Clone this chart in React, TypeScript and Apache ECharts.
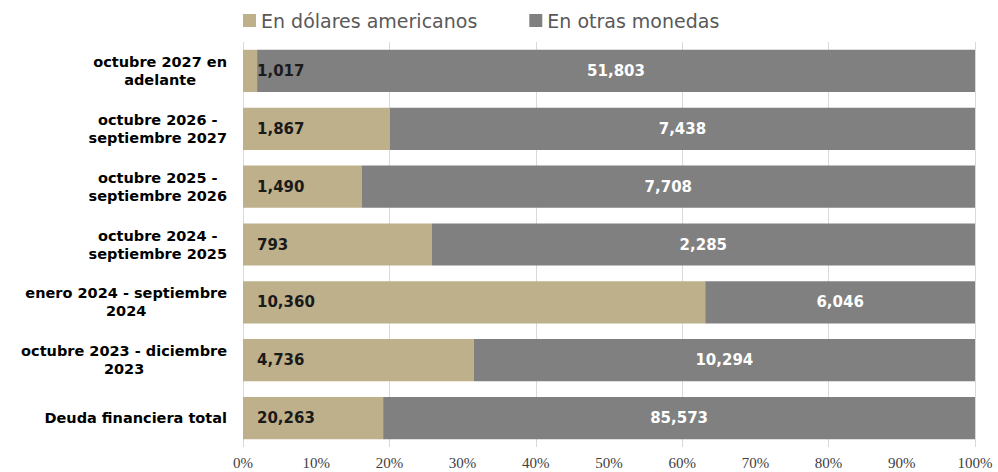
import React, { useEffect, useRef } from "react";
import * as echarts from "echarts";

const categories = [
  "octubre 2027 en\nadelante",
  "octubre 2026 -\nseptiembre 2027",
  "octubre 2025 -\nseptiembre 2026",
  "octubre 2024 -\nseptiembre 2025",
  "enero 2024 - septiembre\n2024",
  "octubre 2023 - diciembre\n2023",
  "Deuda financiera total",
];
const usdValues = [1017, 1867, 1490, 793, 10360, 4736, 20263];
const otherValues = [51803, 7438, 7708, 2285, 6046, 10294, 85573];
const seriesNames = ["En dólares americanos", "En otras monedas"];
const xTicks = [0, 10, 20, 30, 40, 50, 60, 70, 80, 90, 100];

const fmt = (n: number) => n.toLocaleString("en-US");

export default function App() {
  const ref = useRef<HTMLDivElement>(null);
  useEffect(() => {
    if (!ref.current) return;
    const chart = echarts.init(ref.current, undefined, { renderer: "svg" });
    const cats = [...categories].reverse();
    const usd = [...usdValues].reverse();
    const oth = [...otherValues].reverse();
    const totals = usd.map((u, i) => u + oth[i]);
    const font = "DejaVu Sans";
    chart.setOption({
      animation: false,
      legend: {
        top: 6,
        left: 238,
        itemWidth: 13,
        itemHeight: 13,
        itemGap: 52,
        icon: "rect",
        textStyle: { fontFamily: font, fontSize: 19, color: "#595959" },
        data: seriesNames,
      },
      grid: { left: 243, right: 23, top: 42, bottom: 25 },
      xAxis: [
        {
          type: "value",
          min: xTicks[0],
          max: xTicks[xTicks.length - 1],
          interval: 10,
          axisLine: { show: false },
          axisTick: { show: false },
          splitLine: { show: false },
          axisLabel: {
            formatter: (v: number) => v + "%",
            fontFamily: "Liberation Serif",
            fontSize: 15,
            color: "#404040",
            margin: 8,
          },
        },
        {
          type: "value",
          position: "bottom",
          min: 0,
          max: 100,
          interval: 20,
          axisLine: { show: false },
          axisTick: { show: false },
          axisLabel: { show: false },
          splitLine: { show: true, lineStyle: { color: "#D9D9D9", width: 1 } },
        },
      ],
      yAxis: {
        type: "category",
        data: cats,
        axisLine: { show: false },
        axisTick: { show: false },
        axisLabel: {
          margin: 16,
          align: "right",
          formatter: (v: string) =>
            v
              .split("\n")
              .map((l) => `{c|${l}}`)
              .join("\n"),
          rich: {
            c: {
              align: "center",
              fontFamily: font,
              fontWeight: "bold",
              fontSize: 14.5,
              color: "#000000",
              lineHeight: 18,
            },
          },
        },
      },
      series: [
        {
          name: seriesNames[0],
          type: "bar",
          stack: "total",
          barCategoryGap: "27%",
          itemStyle: { color: "#BEB08B" },
          data: usd.map((u, i) => (u / totals[i]) * 100),
          label: {
            show: true,
            position: "insideLeft",
            distance: 14,
            formatter: (p: any) => fmt(usd[p.dataIndex]),
            fontFamily: font,
            fontWeight: "bold",
            fontSize: 15,
            color: "#1a1a1a",
          },
        },
        {
          name: seriesNames[1],
          type: "bar",
          stack: "total",
          barCategoryGap: "27%",
          itemStyle: { color: "#808080" },
          data: oth.map((o, i) => (o / totals[i]) * 100),
          label: {
            show: true,
            position: "inside",
            formatter: (p: any) => fmt(oth[p.dataIndex]),
            fontFamily: font,
            fontWeight: "bold",
            fontSize: 15,
            color: "#ffffff",
          },
        },
      ],
    });
    return () => chart.dispose();
  }, []);
  return (
    <div
      ref={ref}
      style={{ position: "fixed", left: 0, top: 0, width: 998, height: 472, background: "#fff" }}
    />
  );
}
